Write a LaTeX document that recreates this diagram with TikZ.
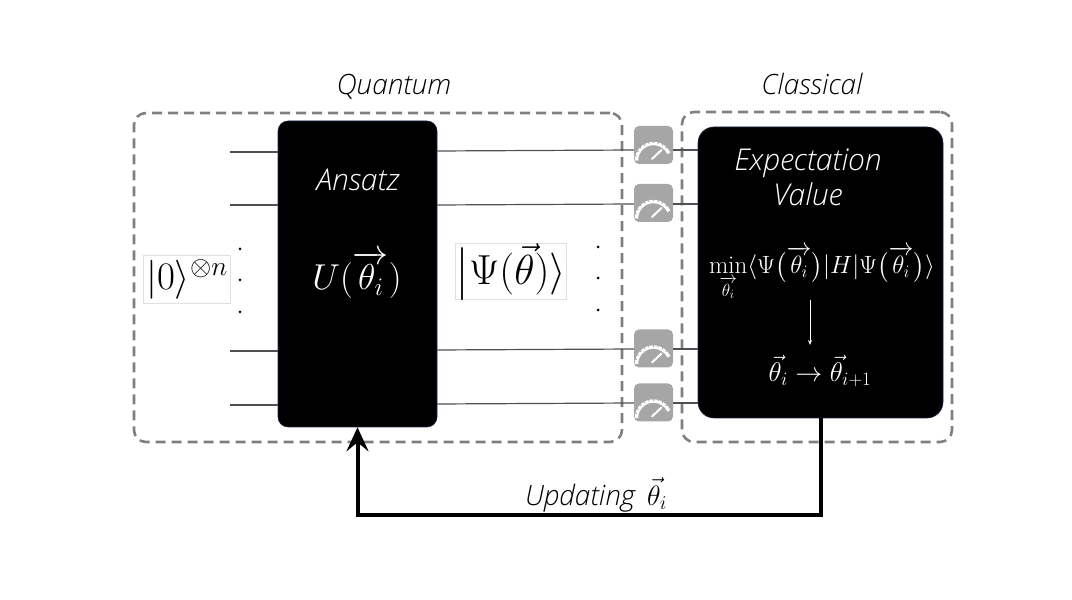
\documentclass[tikz,border=0pt]{standalone}
\usepackage{fix-cm}
\usepackage{amsmath}
\usepackage{amssymb}
\usepackage[no-math]{fontspec}
\setmainfont{Open Sans Light}[ItalicFont={Open Sans Light Italic}]
\usepackage{xcolor}
\usetikzlibrary{arrows.meta}
\definecolor{dashgray}{RGB}{128,128,128}
\definecolor{metergray}{RGB}{166,166,166}
\definecolor{wiregray}{RGB}{80,80,80}
\definecolor{edgeblue}{RGB}{30,40,70}
\tikzstyle{region} = [rectangle, rounded corners=12pt, draw=dashgray, line width=2.6pt, dash pattern=on 10pt off 6pt, inner sep=0pt]
\tikzstyle{block} = [rectangle, fill=black, draw=edgeblue, line width=0.6pt, inner sep=0pt, text=white]
\tikzstyle{meter} = [rectangle, rounded corners=5pt, fill=metergray, minimum width=39pt, minimum height=38pt, inner sep=0pt]
\tikzstyle{mathbox} = [rectangle, fill=white, draw=black!12, line width=0.6pt, inner sep=0pt]
\tikzstyle{caption} = [font=\fontsize{28}{35}\selectfont\itshape, inner sep=0pt]
\tikzstyle{blockcaption} = [font=\fontsize{30}{35}\selectfont\itshape, inner sep=0pt, text=white]
\tikzstyle{wire} = [draw=wiregray, line width=1.2pt]
\tikzstyle{feedback} = [line width=4pt,-{Stealth[length=24pt,width=22pt,inset=9pt]}]
\tikzset{
  dial/.pic={
    \draw [white, line width=3.4pt] (-17,-15.5) arc (180:25:17);
    \foreach \a in {165,150,135,120,105,90,75,60,45}
      \draw [metergray, line width=0.8pt] ([shift={(0,-15.5)}]\a:17.2) -- ([shift={(0,-15.5)}]\a:19.5);
    \fill [white] (-3,-14.5) -- (10,-3) -- (0.5,-11) -- cycle;
    \draw [white, line width=2pt, line cap=round] (-1.5,-14) -- (8,-5);
  }
}
\begin{document}
\begin{tikzpicture}[x=1pt,y=1pt]
   \useasboundingbox (0,0) rectangle (1072,600);
   % dashed regions
   \node (quantum) [region, minimum width=488pt, minimum height=329pt] at (378,322.5) {};
   \node (classical) [region, minimum width=270pt, minimum height=330pt] at (817,323) {};
   \node (quantumtitle) [caption] at (394,513) {Quantum};
   \node (classicaltitle) [caption] at (812,516) {Classical};
   % blocks
   \node (ansatz) [block, rounded corners=10pt, minimum width=159pt, minimum height=306pt] at (357.5,326) {};
   \node (expect) [block, rounded corners=16pt, minimum width=245pt, minimum height=291pt] at (820.5,327.5) {};
   % meters
   \node (m1) [meter] at (653.5,455) {};
   \node (m2) [meter] at (653.5,397) {};
   \node (m3) [meter] at (653.5,251.5) {};
   \node (m4) [meter] at (653.5,197.5) {};
   \foreach \m in {m1,m2,m3,m4}
     \pic at (\m) {dial};
   % wires
   \coordinate (in1) at (230,448);
   \coordinate (in2) at (230,395);
   \coordinate (in3) at (230,249);
   \coordinate (in4) at (230,195);
   \foreach \i in {1,2,3,4}
     \draw [wire] (in\i) -- (in\i -| ansatz.west);
   \draw [wire] (ansatz.east |- 0,449) -- (m1.west |- 0,450);
   \draw [wire] (ansatz.east |- 0,395) -- (m2.west |- 0,396);
   \draw [wire] (ansatz.east |- 0,250) -- (m3.west |- 0,251);
   \draw [wire] (ansatz.east |- 0,196) -- (m4.west |- 0,197);
   \draw [wire] (m1.east |- 0,450) -- (expect.west |- 0,450);
   \draw [wire] (m2.east |- 0,396) -- (expect.west |- 0,396);
   \draw [wire] (m3.east |- 0,251) -- (expect.west |- 0,251);
   \draw [wire] (m4.east |- 0,197) -- (expect.west |- 0,197);
   % dots
   \foreach \y in {351,320,288} {
     \fill (240,\y) circle (1.5pt);
     \fill (598,\y+2) circle (1.5pt);
   }
   % text on the left and in the blocks
   \node (zerostate) [mathbox, minimum width=87pt, minimum height=48pt] at (187,321) {\fontsize{39}{42}\selectfont$|0\rangle^{\otimes n}$};
   \node (psistate) [mathbox, minimum width=109pt, minimum height=55pt] at (510.5,328.5) {\fontsize{42}{44}\selectfont$\bigl|\Psi(\vec{\theta})\rangle$};
   \node (ansatzname) [blockcaption] at (358,420) {Ansatz};
   \node (unitary) [text=white, inner sep=0pt] at (357,325) {\fontsize{36}{38}\selectfont$U(\overrightarrow{\theta_i})$};
   \node (expectname) [blockcaption, align=center] at (808,423) {Expectation\\Value};
   \node (minimize) [text=white, inner sep=0pt] at (822,326) {\fontsize{25}{28}\selectfont$\min\limits_{\overrightarrow{\theta_i}}\langle\Psi\bigl(\overrightarrow{\theta_i}\bigr)|H|\Psi\bigl(\overrightarrow{\theta_i}\bigr)\rangle$};
   \node (update) [text=white, inner sep=0pt] at (820,229) {\fontsize{27}{30}\selectfont$\vec{\theta}_i\rightarrow\vec{\theta}_{i+1}$};
   \coordinate (minfoot) at (810,300);
   \coordinate (updatetop) at (810,255);
   \draw [white, line width=0.8pt, -{Stealth[length=5pt,width=4pt]}] (minfoot) -- (updatetop);
   % feedback path
   \coordinate (corner) at (820.5,85);
   \draw [feedback] (expect.south -| corner) -- (corner) -- (corner -| ansatz.south) -- (ansatz.south);
   \node (updatelabel) [caption] at (596,105) {Updating\, $\vec{\theta}_i$};
\end{tikzpicture}
\end{document}
